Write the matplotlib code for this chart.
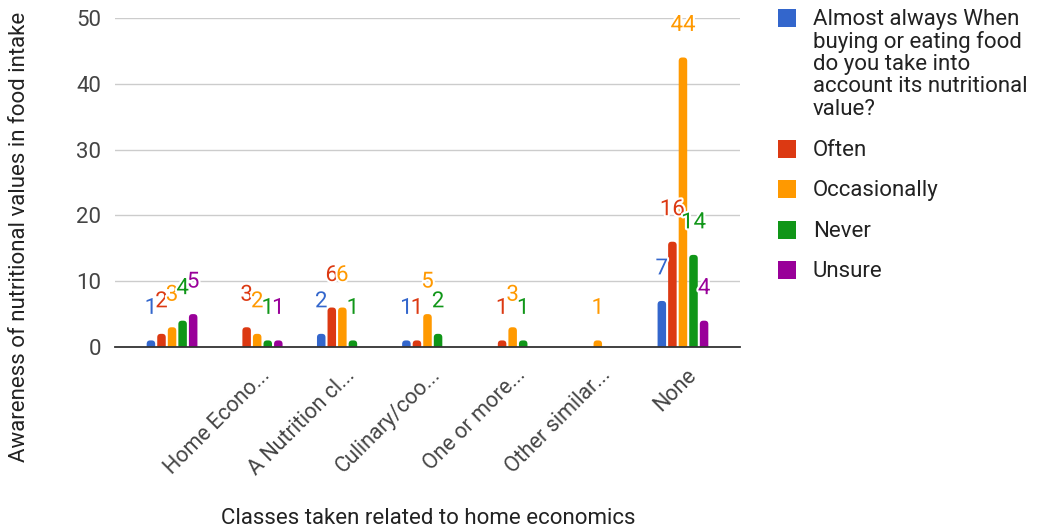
import matplotlib
matplotlib.use("Agg")
import matplotlib.pyplot as plt
from matplotlib.patches import FancyBboxPatch, Rectangle
import matplotlib.patheffects as pe
import matplotlib.transforms as mtransforms

plt.rcParams['font.family'] = ['Roboto', 'DejaVu Sans']

categories = ["", "Home Econo...", "A Nutrition cl...", "Culinary/coo...",
              "One or more...", "Other similar...", "None"]
series_names = [
    "Almost always When\nbuying or eating food\ndo you take into\naccount its nutritional\nvalue?",
    "Often", "Occasionally", "Never", "Unsure",
]
almost_always = [1, 0, 2, 1, 0, 0, 7]
often = [2, 3, 6, 1, 1, 0, 16]
occasionally = [3, 2, 6, 5, 3, 1, 44]
never = [4, 1, 1, 2, 1, 0, 14]
unsure = [5, 1, 0, 0, 0, 0, 4]
series = [almost_always, often, occasionally, never, unsure]
colors = ["#3366cc", "#dc3912", "#ff9900", "#109618", "#990099"]
y_ticks = [0, 10, 20, 30, 40, 50]

W, H = 1038, 531
fig = plt.figure(figsize=(W / 100, H / 100), dpi=100)
ax = fig.add_axes([115 / W, 1 - 347 / H, 625 / W, 329 / H])

n = len(categories)
ax.set_xlim(-0.67, n - 1 + 0.67)
ax.set_ylim(0, 50)

# pixel scale, used to keep the rounded bar tops circular
px_x = 625 / (n - 1 + 1.34)
px_y = 329 / 50
slot = 0.124
bar_w = 0.1
radius_px = 3.5
r = radius_px / px_x
aspect = (radius_px / px_y) / r

halo = [pe.withStroke(linewidth=3, foreground="white")]

for si, (vals, col) in enumerate(zip(series, colors)):
    for ci, v in enumerate(vals):
        if v == 0:
            continue
        xc = ci + (si - 2) * slot
        bottom = -2.0
        patch = FancyBboxPatch((xc - bar_w / 2, bottom), bar_w, v - bottom,
                               boxstyle=f"round,pad=0,rounding_size={r}",
                               mutation_aspect=aspect,
                               facecolor=col, edgecolor="none", zorder=3)
        ax.add_patch(patch)

for si, (vals, col) in enumerate(zip(series, colors)):
    for ci, v in enumerate(vals):
        if v == 0:
            continue
        xc = ci + (si - 2) * slot
        ax.annotate(str(v), (xc, v), xytext=(0, 15.5), textcoords="offset points",
                    ha="center", va="bottom", fontsize=16, color=col,
                    path_effects=halo, zorder=5, annotation_clip=False)

ax.set_yticks(y_ticks)
ax.set_yticklabels([str(t) for t in y_ticks], fontsize=16, color="#444444")
ax.grid(axis="y", color="#cccccc", linewidth=1)
ax.set_axisbelow(True)
for s in ["top", "right", "left"]:
    ax.spines[s].set_visible(False)
ax.spines["bottom"].set_color("#333333")
ax.spines["bottom"].set_linewidth(1.3)
ax.spines["bottom"].set_zorder(4)
ax.tick_params(axis="y", length=0, pad=10)
ax.tick_params(axis="x", length=0, pad=18)

ax.set_xticks(range(n))
ax.set_xticklabels(categories, rotation=45, ha="right", va="center",
                   rotation_mode="anchor", fontsize=15.5, color="#444444")
offset = mtransforms.ScaledTranslation(10 / 100, 0, fig.dpi_scale_trans)
for lbl in ax.get_xticklabels():
    lbl.set_transform(lbl.get_transform() + offset)

fig.text(428 / W, 1 - 519 / H, "Classes taken related to home economics",
         ha="center", va="center", fontsize=16, color="#222222")
fig.text(20 / W, 1 - 237 / H, "Awareness of nutritional values in food intake",
         ha="center", va="center", rotation=90, fontsize=16, color="#222222")

# legend
legend_y = [10, 141, 181, 222, 262]
for name, col, ytop in zip(series_names, colors, legend_y):
    fig.patches.append(Rectangle((778 / W, 1 - (ytop + 17) / H), 18 / W, 18 / H,
                                 transform=fig.transFigure, facecolor=col,
                                 edgecolor="none"))
    fig.text(813 / W, 1 - (ytop - 1) / H, name, ha="left", va="top",
             fontsize=16, color="#222222", linespacing=1.07)

fig.savefig("out.png", dpi=100)
